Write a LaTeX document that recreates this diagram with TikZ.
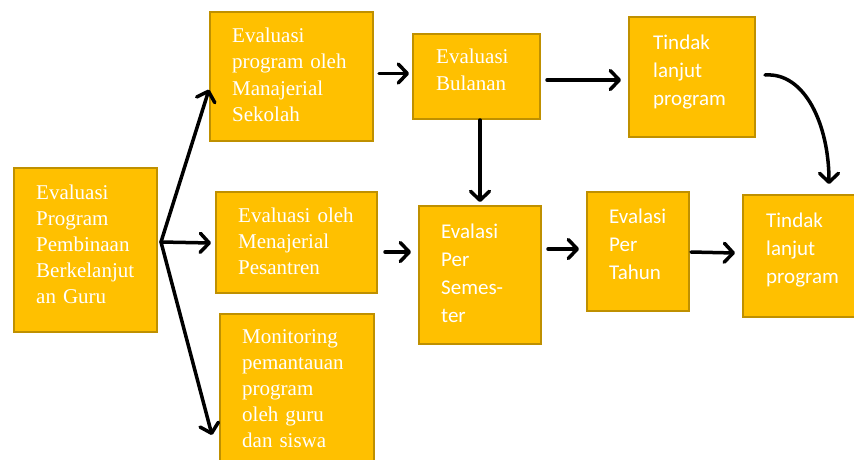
\documentclass[tikz,border=0pt]{standalone}
\usepackage{fontspec}
\setmainfont{Liberation Serif}
\newfontfamily\calib{Carlito}
\usetikzlibrary{arrows.meta}
\definecolor{boxfill}{HTML}{FFC000}
\definecolor{boxline}{HTML}{BF9000}
\tikzset{
  box/.style={draw=boxline, fill=boxfill, line width=2pt, inner sep=0pt, rectangle},
  sertext/.style={anchor=base west, inner sep=0pt, text=white, text width=150pt, align=left,
    font=\fontsize{21}{26}\selectfont},
  santext/.style={anchor=base west, inner sep=0pt, text=white, text width=120pt, align=left,
    font=\calib\fontsize{21}{28}\selectfont},
  arr/.style={line width=3.5pt, line cap=round, -{Straight Barb[length=9pt,width=19pt,round]}}
}
\begin{document}
\begin{tikzpicture}[x=1pt,y=-1pt]
\useasboundingbox (0,0) rectangle (854,459);
% boxes
\node[box, minimum width=143pt, minimum height=164pt] (A) at (85.5,250) {};
\node[box, minimum width=163pt, minimum height=129pt] (B) at (291.5,76.5) {};
\node[box, minimum width=127pt, minimum height=85pt] (C) at (476.5,76.5) {};
\node[box, minimum width=126pt, minimum height=120pt] (D) at (692,77) {};
\node[box, minimum width=161pt, minimum height=101pt] (E) at (296.5,242.5) {};
\node[box, minimum width=122pt, minimum height=138pt] (F) at (480,275) {};
\node[box, minimum width=102pt, minimum height=119pt] (G) at (638,251.5) {};
\node[box, minimum width=117pt, minimum height=122pt] (H) at (801.5,256) {};
\node[box, minimum width=154pt, minimum height=156pt] (I) at (297,392) {};
% texts
\node[sertext] (tA) at (36,199) {Evaluasi\\Program\\Pembinaan\\Berkelanjut\\an Guru};
\node[sertext, font=\fontsize{21}{26.5}\selectfont] (tB) at (232,42) {Evaluasi\\program oleh\\Manajerial\\Sekolah};
\node[sertext, font=\fontsize{21}{27}\selectfont] (tC) at (436,63) {Evaluasi\\Bulanan};
\node[santext] (tD) at (653,49) {Tindak\\lanjut\\program};
\node[sertext] (tE) at (238,222) {Evaluasi oleh\\Menajerial\\Pesantren};
\node[santext] (tF) at (441,238) {Evalasi\\Per\\Semes-\\ter};
\node[santext] (tG) at (609,223) {Evalasi\\Per\\Tahun};
\node[santext] (tH) at (766,227) {Tindak\\lanjut\\program};
\node[sertext] (tI) at (242,343) {Monitoring\\pemantauan\\program\\oleh guru\\dan siswa};
% connectors
\coordinate (fork) at (161,242);
\draw[arr] (fork) -- (B.189);
\draw[arr] (fork) -- ([shift={(-4,0.5)}]E.west);
\draw[arr] (fork) -- ([shift={(-7,43)}]I.west);
\draw[arr] ([shift={(5,-3)}]B.east) -- ([shift={(-3,-3)}]C.west);
\draw[arr] ([shift={(6,3.5)}]C.east) -- ([shift={(-7,3)}]D.west);
\draw[arr] (C.south -| F.north) -- ([shift={(0,-3)}]F.north);
\draw[arr] ([shift={(7,9.5)}]E.east) -- ([shift={(-7,-23)}]F.west);
\draw[arr] ([shift={(6,-26)}]F.east) -- ([shift={(-7,-2.5)}]G.west);
\draw[arr] ([shift={(1,0.5)}]G.east) -- ([shift={(-7,-3)}]H.west);
\draw[arr] ([shift={(9,-2)}]D.east) .. controls (805,72) and (829,125) .. ([shift={(27.5,-10)}]H.north);
\end{tikzpicture}
\end{document}
